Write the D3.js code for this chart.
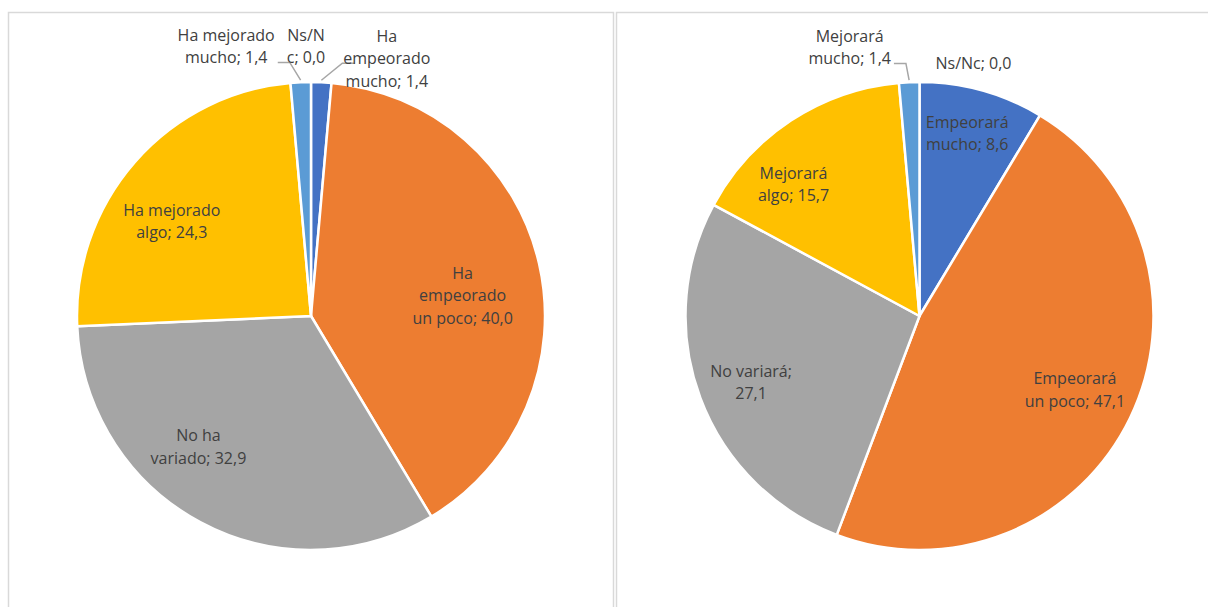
<!DOCTYPE html>
<html>
<head>
<meta charset="utf-8">
<style>
  body { margin: 0; background: #ffffff; }
  svg text { font-family: "Open Sans", "DejaVu Sans", sans-serif; font-size: 16px; fill: #404040; }
</style>
<script src="https://cdn.jsdelivr.net/npm/d3@7"></script>
</head>
<body>
<svg id="chart" width="1208" height="607"></svg>
<script>
// colours (Excel default palette)
var sliceColors = ["#4472C4", "#ED7D31", "#A5A5A5", "#FFC000", "#5B9BD5", "#70AD47"];

// left pie: evolucion pasada
var leftCats = ["Ha empeorado mucho", "Ha empeorado un poco", "No ha variado", "Ha mejorado algo", "Ha mejorado mucho", "Ns/Nc"];
var leftVals = [1.4, 40.0, 32.9, 24.3, 1.4, 0.0];

// right pie: evolucion futura
var rightCats = ["Empeorará mucho", "Empeorará un poco", "No variará", "Mejorará algo", "Mejorará mucho", "Ns/Nc"];
var rightVals = [8.6, 47.1, 27.1, 15.7, 1.4, 0.0];

// label layout (character break positions, radius fraction, nudge, leader line)
var leftBreaks = [[2, 12], [2, 12], [5], [11], [11], [4]];
var leftFrac = [1.15, 0.7, 0.7, 0.7, 1.15, 1.15];
var leftNudge = [[64, 11], [-8, 16], [-35, -14], [-16, 13], [-73, -1], [-5, -1]];
var leftLeader = [true, false, false, false, true, false];

var rightBreaks = [[9], [9], [11], [8], [8], []];
var rightFrac = [0.7, 0.7, 0.7, 0.7, 1.15, 1.15];
var rightNudge = [[4, -25], [8, 2], [-15, 9], [-36, 5], [-58, 0], [54, 16]];
var rightLeader = [false, false, false, false, true, false];

var svg = d3.select("#chart");
var R = 234;
var lineH = 22.5;

// panels
svg.append("rect").attr("x", 8.5).attr("y", 12.5).attr("width", 605).attr("height", 640)
    .attr("fill", "#ffffff").attr("stroke", "#D9D9D9").attr("stroke-width", 1.5);
svg.append("rect").attr("x", 616.5).attr("y", 12.5).attr("width", 640).attr("height", 640)
    .attr("fill", "#ffffff").attr("stroke", "#D9D9D9").attr("stroke-width", 1.5);

function fmt(v) {
    return v.toFixed(1).replace(".", ",");
}

function splitLabel(s, breaks) {
    var out = [], prev = 0;
    breaks.forEach(function (b) {
        out.push(s.slice(prev, b).trim());
        prev = b;
    });
    out.push(s.slice(prev).trim());
    return out;
}

function drawPie(cx, cy, cats, vals, breaks, frac, nudge, leader) {
    var g = svg.append("g").attr("transform", "translate(" + cx + "," + cy + ")");
    var pie = d3.pie().sort(null).value(function (d) { return d; });
    var arcs = pie(vals);
    var arc = d3.arc().innerRadius(0).outerRadius(R);

    g.selectAll("path.slice").data(arcs).enter().append("path")
        .attr("class", "slice")
        .attr("d", arc)
        .attr("fill", function (d, i) { return sliceColors[i]; })
        .attr("stroke", "#ffffff")
        .attr("stroke-width", function (d) { return d.value > 0 ? 2.5 : 0; })
        .attr("stroke-linejoin", "round");

    arcs.forEach(function (d, i) {
        var labelArc = d3.arc().innerRadius(R * frac[i]).outerRadius(R * frac[i]);
        var c = labelArc.centroid(d);
        var lx = c[0] + nudge[i][0], ly = c[1] + nudge[i][1];
        var lines = splitLabel(cats[i] + "; " + fmt(vals[i]), breaks[i]);
        var t = g.append("text").attr("text-anchor", "middle");
        lines.forEach(function (ln, j) {
            t.append("tspan").attr("x", lx)
                .attr("y", ly + (j - (lines.length - 1) / 2) * lineH)
                .attr("dominant-baseline", "central")
                .text(ln);
        });

        if (leader[i]) {
            var bb = t.node().getBBox();
            var mid = (d.startAngle + d.endAngle) / 2;
            var p0 = [Math.sin(mid) * (R + 2), -Math.cos(mid) * (R + 2)];
            var sy = ly + (1 - (lines.length - 1) / 2) * lineH + 5;
            var elbow, end;
            if (lx < p0[0]) {
                end = [bb.x + bb.width + 3, sy];
                elbow = [end[0] + 12, sy];
            } else {
                elbow = [bb.x - 1, sy];
                end = [elbow[0] + 12, sy];
            }
            g.insert("polyline", "text")
                .attr("points", [p0, elbow, end].map(function (p) { return p.join(","); }).join(" "))
                .attr("fill", "none").attr("stroke", "#A6A6A6").attr("stroke-width", 1.5);
        }
    });
}

drawPie(311, 316, leftCats, leftVals, leftBreaks, leftFrac, leftNudge, leftLeader);
drawPie(919.5, 316, rightCats, rightVals, rightBreaks, rightFrac, rightNudge, rightLeader);
</script>
</body>
</html>
